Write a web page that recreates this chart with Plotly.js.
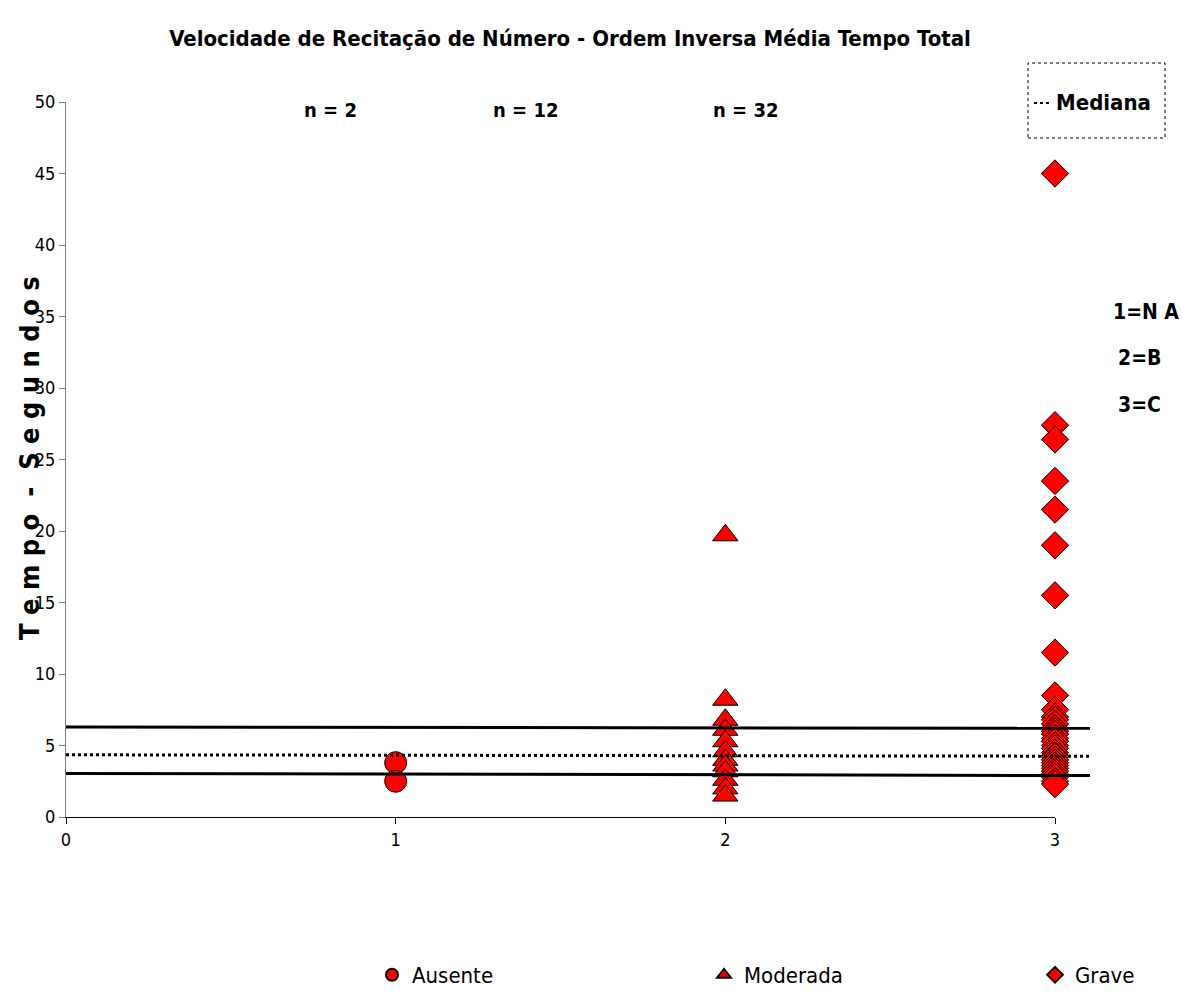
<!DOCTYPE html>
<html>
<head>
<meta charset="utf-8">
<script src="https://cdn.plot.ly/plotly-3.0.1.min.js"></script>
<style>html,body{margin:0;padding:0;background:#fff;}#chart{width:1183px;height:991px;}</style>
</head>
<body>
<div id="chart"></div>
<script>
// ---- data ----
var seriesNames = ["Ausente", "Moderada", "Grave"];
var ausenteX = [1, 1];
var ausenteY = [3.8, 2.5];
var moderadaX = [2, 2, 2, 2, 2, 2, 2, 2, 2, 2, 2, 2];
var moderadaY = [19.7, 8.2, 6.8, 6.1, 5.3, 4.6, 4.0, 3.6, 3.2, 2.6, 2.0, 1.5];
var graveX = [3,3,3,3,3,3,3,3,3,3,3,3,3,3,3,3,3,3,3,3,3,3,3,3,3,3,3,3,3,3,3,3];
var graveY = [45.0, 27.4, 26.4, 23.5, 21.5, 19.0, 15.5, 11.5, 8.5,
              7.5, 7.0, 6.8, 6.5, 6.2, 6.0, 5.8, 5.5, 5.3, 5.0, 4.8, 4.5, 4.3,
              4.2, 4.0, 3.8, 3.6, 3.4, 3.2, 3.0, 2.8, 2.5, 2.3];
var refLineUpper = [6.3, 6.2];
var refLineMedian = [4.35, 4.25];
var refLineLower = [3.05, 2.9];
var nLabels = ["n = 2", "n = 12", "n = 32"];
var keyLabels = ["1=N A", "2=B", "3=C"];
var xTicks = [0, 1, 2, 3];
var yTicks = [0, 5, 10, 15, 20, 25, 30, 35, 40, 45, 50];

var FN = "'Liberation Sans Narrow', 'Arial Narrow', 'DejaVu Sans Condensed', sans-serif";

var W = 1183, H = 991;
var L = 66, R = 1183 - 1055, T = 102, B = 991 - 817;
var pw = W - L - R, ph = H - T - B;
function px(x) { return (x - L) / pw; }
function py(y) { return (H - B - y) / ph; }

var mk = function (sym, size) {
  return {color: "#FF0000", size: size, symbol: sym, line: {color: "#000000", width: 1}};
};

var traces = [
  {type: "scatter", mode: "markers", name: seriesNames[0], x: ausenteX, y: ausenteY,
   marker: mk("circle", 22), cliponaxis: false, legend: "legend"},
  {type: "scatter", mode: "markers", name: seriesNames[1], x: moderadaX, y: moderadaY,
   marker: mk("triangle-up", 22), cliponaxis: false, legend: "legend2"},
  {type: "scatter", mode: "markers", name: seriesNames[2], x: graveX, y: graveY,
   marker: mk("diamond", 21), cliponaxis: false, legend: "legend3"}
];

var lineEnd = px(1090);
var shapes = [
  {type: "line", xref: "paper", yref: "y", x0: 0, x1: lineEnd, y0: refLineUpper[0], y1: refLineUpper[1],
   line: {color: "#000", width: 3}, layer: "above"},
  {type: "line", xref: "paper", yref: "y", x0: 0, x1: lineEnd, y0: refLineMedian[0], y1: refLineMedian[1],
   line: {color: "#000", width: 3, dash: "dot"}, layer: "above"},
  {type: "line", xref: "paper", yref: "y", x0: 0, x1: lineEnd, y0: refLineLower[0], y1: refLineLower[1],
   line: {color: "#000", width: 3}, layer: "above"},
  // Mediana box
  {type: "rect", xref: "paper", yref: "paper", x0: px(1028), x1: px(1165), y0: py(138), y1: py(63),
   line: {color: "#000", width: 1, dash: "dot"}, fillcolor: "rgba(0,0,0,0)"},
  {type: "line", xref: "paper", yref: "paper", x0: px(1034), x1: px(1051), y0: py(103), y1: py(103),
   line: {color: "#000", width: 2, dash: "dot"}}
];

var ann = [];
var nPos = [330, 525, 745];
for (var i = 0; i < nLabels.length; i++) {
  ann.push({xref: "paper", yref: "paper", x: px(nPos[i]), y: py(110), text: "<b>" + nLabels[i] + "</b>",
    showarrow: false, font: {family: FN, size: 20, color: "#000"}, xanchor: "center", yanchor: "middle"});
}
var kPos = [[1181, 312], [1163, 358], [1163, 405]];
for (var j = 0; j < keyLabels.length; j++) {
  ann.push({xref: "paper", yref: "paper", x: px(kPos[j][0]), y: py(kPos[j][1]), text: "<b>" + keyLabels[j] + "</b>",
    showarrow: false, font: {family: FN, size: 21, color: "#000"}, xanchor: "right", yanchor: "middle"});
}
ann.push({xref: "paper", yref: "paper", x: px(1103), y: py(102), text: "<b>Mediana</b>",
  showarrow: false, font: {family: FN, size: 22, color: "#000"}, xanchor: "center", yanchor: "middle"});
ann.push({xref: "paper", yref: "paper", x: px(29), y: py(458), text: "<b>T e m p o  -  S e g u n d o s</b>",
  textangle: -90, showarrow: false, font: {family: FN, size: 27, color: "#000"}, xanchor: "center", yanchor: "middle"});

var legBase = {orientation: "h", xanchor: "left", yanchor: "middle", y: py(975),
  font: {family: FN, size: 22, color: "#000"}, itemsizing: "constant", bgcolor: "rgba(0,0,0,0)", borderwidth: 0};
function leg(xpix) { var o = JSON.parse(JSON.stringify(legBase)); o.x = px(xpix); return o; }

var layout = {
  width: W, height: H,
  margin: {l: L, r: R, t: T, b: B, pad: 0, autoexpand: false},
  paper_bgcolor: "#fff", plot_bgcolor: "#fff",
  title: {text: "<b>Velocidade de Recitação de Número - Ordem Inversa Média Tempo Total</b>",
    font: {family: FN, size: 22, color: "#000"}, xref: "container", x: 570 / W, xanchor: "center",
    yref: "container", y: 1 - 38 / H, yanchor: "middle"},
  xaxis: {range: [0, 3], tickvals: xTicks, ticktext: xTicks.map(String), showgrid: false, zeroline: false,
    showline: true, linecolor: "#000", linewidth: 1, ticks: "outside", ticklen: 6, tickcolor: "#000",
    tickfont: {family: FN, size: 18, color: "#000"}, fixedrange: true},
  yaxis: {range: [0, 50], tickvals: yTicks, ticktext: yTicks.map(String), showgrid: false, zeroline: false,
    showline: true, linecolor: "#808080", linewidth: 1, ticks: "outside", ticklen: 6, tickcolor: "#808080",
    tickfont: {family: FN, size: 18, color: "#000"}, fixedrange: true},
  showlegend: true,
  legend: leg(372),
  legend2: leg(704),
  legend3: leg(1035),
  shapes: shapes,
  annotations: ann
};

Plotly.newPlot("chart", traces, layout, {displayModeBar: false, staticPlot: true});
</script>
</body>
</html>
